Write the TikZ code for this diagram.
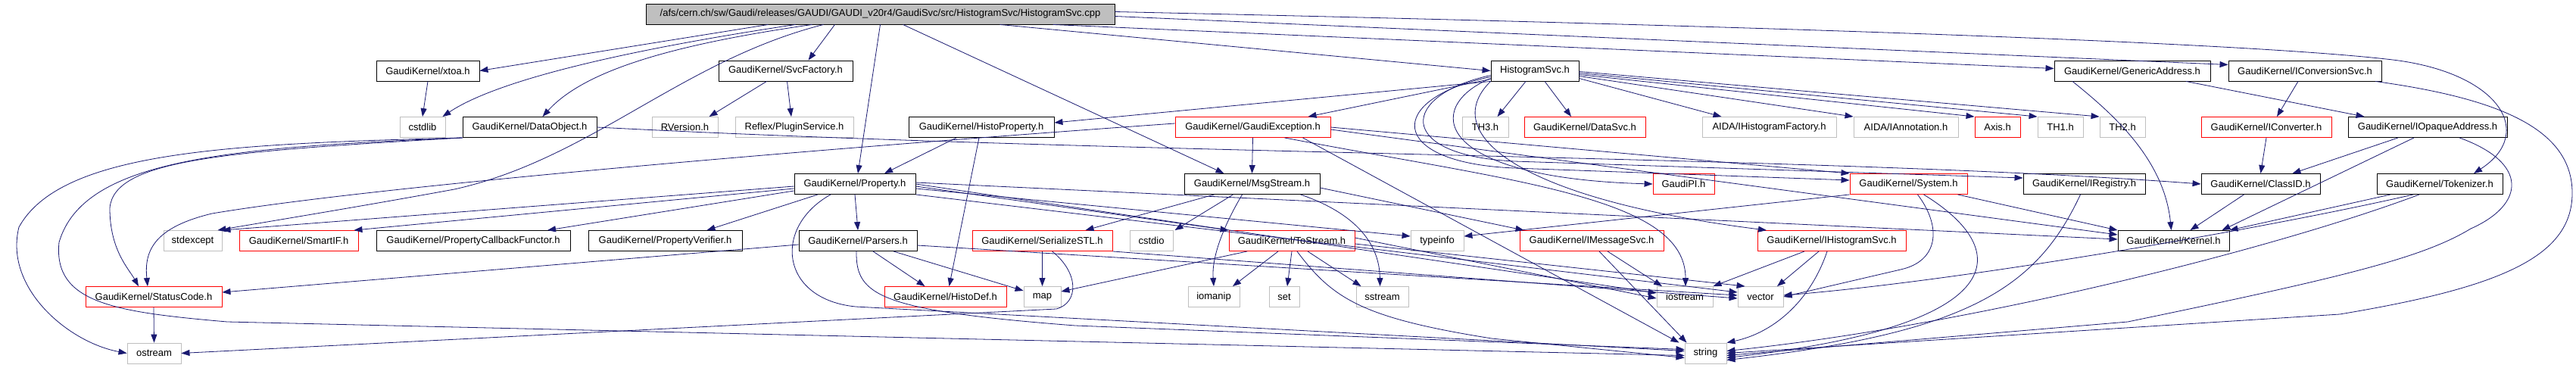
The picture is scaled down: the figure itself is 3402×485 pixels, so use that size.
\documentclass[tikz,border=0pt]{standalone}
\usepackage{fontspec}
\setmainfont{Liberation Sans}
\usepackage{xcolor}
\usetikzlibrary{arrows.meta}

\definecolor{edgeblue}{RGB}{25,25,112}
\definecolor{boxgray}{RGB}{191,191,191}

\begin{document}
\begin{tikzpicture}[x=1pt, y=-1pt, font=\fontsize{13}{15}\selectfont,
  hdr/.style={draw=black, line width=0.9pt, minimum height=27pt, inner sep=0pt},
  trunc/.style={hdr, draw=red},
  ext/.style={hdr, draw=boxgray},
  rootbox/.style={hdr, fill=boxgray},
  dep/.style={draw=edgeblue, line width=0.8pt, -{Triangle[length=11pt,width=8pt]}}]
  \useasboundingbox (0,0) rectangle (3402,485);
  % Source file
  \node[rootbox, minimum width=619pt] (root) at (1162.5,18.5) {/afs/cern.ch/sw/Gaudi/releases/GAUDI/GAUDI\_v20r4/GaudiSvc/src/HistogramSvc/HistogramSvc.cpp};
  % Row 1
  \node[hdr, minimum width=136pt] (xtoa) at (565,93.5) {GaudiKernel/xtoa.h};
  \node[hdr, minimum width=177pt] (svcfac) at (1037.5,93.5) {GaudiKernel/SvcFactory.h};
  \node[hdr, minimum width=116pt] (histsvc) at (2027,93.5) {HistogramSvc.h};
  \node[hdr, minimum width=206pt] (genaddr) at (2816,93.5) {GaudiKernel/GenericAddress.h};
  \node[hdr, minimum width=202pt] (iconvsvc) at (3044,93.5) {GaudiKernel/IConversionSvc.h};
  % Row 2
  \node[ext, minimum width=60pt] (cstdlib) at (558,168) {cstdlib};
  \node[hdr, minimum width=177pt] (dataobj) at (699.5,168) {GaudiKernel/DataObject.h};
  \node[ext, minimum width=87pt] (rversion) at (904.5,168) {RVersion.h};
  \node[ext, minimum width=156pt] (plugin) at (1049,168) {Reflex/PluginService.h};
  \node[hdr, minimum width=192pt] (histoprop) at (1296,168) {GaudiKernel/HistoProperty.h};
  \node[trunc, minimum width=205pt] (gexcept) at (1654.5,168) {GaudiKernel/GaudiException.h};
  \node[ext, minimum width=61pt] (th3) at (1961.5,168) {TH3.h};
  \node[trunc, minimum width=160pt] (datasvc) at (2093,168) {GaudiKernel/DataSvc.h};
  \node[ext, minimum width=177pt] (ihfact) at (2336.5,168) {AIDA/IHistogramFactory.h};
  \node[ext, minimum width=138pt] (iannot) at (2517,168) {AIDA/IAnnotation.h};
  \node[trunc, minimum width=60pt] (axis) at (2638,168) {Axis.h};
  \node[ext, minimum width=60pt] (th1) at (2721,168) {TH1.h};
  \node[ext, minimum width=60pt] (th2) at (2803,168) {TH2.h};
  \node[trunc, minimum width=172pt] (iconv) at (2993,168) {GaudiKernel/IConverter.h};
  \node[hdr, minimum width=210pt] (iopaque) at (3206,168) {GaudiKernel/IOpaqueAddress.h};
  % Row 3
  \node[hdr, minimum width=160pt] (property) at (1129,243) {GaudiKernel/Property.h};
  \node[hdr, minimum width=179pt] (msgstream) at (1653.5,243) {GaudiKernel/MsgStream.h};
  \node[trunc, minimum width=81pt] (gaudipi) at (2223.5,243) {GaudiPI.h};
  \node[trunc, minimum width=155pt] (system) at (2520.5,243) {GaudiKernel/System.h};
  \node[hdr, minimum width=161pt] (iregistry) at (2752.5,243) {GaudiKernel/IRegistry.h};
  \node[hdr, minimum width=157pt] (classid) at (2985.5,243) {GaudiKernel/ClassID.h};
  \node[hdr, minimum width=166pt] (tokenizer) at (3222,243) {GaudiKernel/Tokenizer.h};
  % Row 4
  \node[ext, minimum width=77pt] (stdexcept) at (254.5,318) {stdexcept};
  \node[trunc, minimum width=157pt] (smartif) at (394.5,318) {GaudiKernel/SmartIF.h};
  \node[hdr, minimum width=256pt] (propcb) at (625,318) {GaudiKernel/PropertyCallbackFunctor.h};
  \node[hdr, minimum width=203pt] (propver) at (878.5,318) {GaudiKernel/PropertyVerifier.h};
  \node[hdr, minimum width=156pt] (parsers) at (1133,318) {GaudiKernel/Parsers.h};
  \node[trunc, minimum width=185pt] (serial) at (1376.5,318) {GaudiKernel/SerializeSTL.h};
  \node[ext, minimum width=57pt] (cstdio) at (1520.5,318) {cstdio};
  \node[trunc, minimum width=166pt] (tostream) at (1706,318) {GaudiKernel/ToStream.h};
  \node[ext, minimum width=70pt] (typeinfo) at (1898,318) {typeinfo};
  \node[trunc, minimum width=190pt] (imsgsvc) at (2102,318) {GaudiKernel/IMessageSvc.h};
  \node[trunc, minimum width=196pt] (ihistsvc) at (2419,318) {GaudiKernel/IHistogramSvc.h};
  \node[hdr, minimum width=147pt] (kernel) at (2870.5,318) {GaudiKernel/Kernel.h};
  % Row 5
  \node[trunc, minimum width=180pt] (statuscode) at (203,392) {GaudiKernel/StatusCode.h};
  \node[trunc, minimum width=161pt] (histodef) at (1248.5,392) {GaudiKernel/HistoDef.h};
  \node[ext, minimum width=49pt] (map) at (1376.5,392) {map};
  \node[ext, minimum width=68pt] (iomanip) at (1603,392) {iomanip};
  \node[ext, minimum width=40pt] (set) at (1696,392) {set};
  \node[ext, minimum width=69pt] (sstream) at (1825.5,392) {sstream};
  \node[ext, minimum width=74pt] (iostream) at (2225,392) {iostream};
  \node[ext, minimum width=60pt] (vector) at (2325,392) {vector};
  % Row 6
  \node[ext, minimum width=71pt] (ostream) at (203.5,466.5) {ostream};
  \node[ext, minimum width=55pt] (string) at (2252.5,466.5) {string};

  % From the source file
  \draw[dep] ([xshift=-148pt]root.south) -- (xtoa.east);
  \draw[dep] ([xshift=-112pt]root.south) .. controls (800,70) and (650,110) .. ([xshift=-4pt]cstdlib.north east);
  \draw[dep] ([xshift=-90pt]root.south) .. controls (880,60) and (770,95) .. ([xshift=17pt]dataobj.north);
  \draw[dep] ([xshift=-60pt]root.south) -- ([xshift=30pt]svcfac.north);
  \draw[dep] ([xshift=-75pt]root.south) .. controls (900,80) and (780,210) .. (600,250) .. controls (480,272) and (370,290) .. ([xshift=-6pt]stdexcept.north east);
  \draw[dep] (root.south) -- ([xshift=4pt]property.north);
  \draw[dep] ([xshift=30pt]root.south) -- ([xshift=-37pt]msgstream.north);
  \draw[dep] ([xshift=158pt]root.south) -- (histsvc.west);
  \draw[dep] ([xshift=228pt]root.south) -- ([yshift=3pt]genaddr.west);
  \draw[dep] ([yshift=-3pt]root.east) -- ([yshift=8pt]iconvsvc.west);
  \draw[dep] ([yshift=3pt]root.east) .. controls (2500,38) and (3000,60) .. (3160,79) .. controls (3300,96) and (3350,175) .. ([xshift=45pt]tokenizer.north);
  % Row 1 headers
  \draw[dep] (xtoa.south) -- (cstdlib.north);
  \draw[dep] ([xshift=-25pt]svcfac.south) -- ([xshift=32pt]rversion.north);
  \draw[dep] ([xshift=2pt]svcfac.south) -- ([xshift=-4pt]plugin.north);
  \draw[dep] (histsvc.south west) -- ([yshift=6pt]histoprop.east);
  \draw[dep] ([yshift=3pt]histsvc.south west) -- ([xshift=73pt]gexcept.north);
  \draw[dep] ([xshift=-12pt]histsvc.south) -- ([xshift=16pt]th3.north);
  \draw[dep] ([xshift=13pt]histsvc.south) -- ([xshift=-18pt]datasvc.north);
  \draw[dep] ([yshift=-10pt]histsvc.east) -- ([xshift=-63pt]ihfact.north);
  \draw[dep] ([yshift=-7pt]histsvc.east) -- (iannot.north west);
  \draw[dep] ([yshift=-5pt]histsvc.east) -- (axis.north west);
  \draw[dep] ([yshift=-3pt]histsvc.east) -- (th1.north west);
  \draw[dep] ([yshift=-1pt]histsvc.east) -- (th2.north west);
  \draw[dep] ([yshift=-10pt]histsvc.west) .. controls (1880,140) and (1890,235) .. (gaudipi.west);
  \draw[dep] ([yshift=-8pt]histsvc.west) .. controls (1830,130) and (1830,215) .. (2000,222) -- ([yshift=5pt]system.west);
  \draw[dep] ([yshift=-6pt]histsvc.west) .. controls (1850,125) and (1840,205) .. (2000,213) -- ([yshift=8pt]iregistry.west);
  \draw[dep] (histsvc.south west) .. controls (1900,175) and (2000,262) .. ([xshift=-86pt]ihistsvc.north);
  \draw[dep] ([xshift=71pt]genaddr.south) -- ([xshift=22pt]iopaque.north west);
  \draw[dep] ([xshift=-79pt]genaddr.south) .. controls (2790,150) and (2858,210) .. ([xshift=-3pt]kernel.north);
  \draw[dep] ([xshift=-9pt]iconvsvc.south) -- ([xshift=14pt]iconv.north);
  \draw[dep] ([xshift=93pt]iconvsvc.south) .. controls (3300,130) and (3397,170) .. (3397,255) .. controls (3397,340) and (3300,380) .. (3090,415) -- (string.east);
  % Row 2 headers
  \draw[dep] (dataobj.south west) .. controls (300,190) and (80,200) .. (25,300) .. controls (5,380) and (90,452) .. (ostream.west);
  \draw[dep] (dataobj.south west) .. controls (300,195) and (110,210) .. (78,320) .. controls (70,400) and (150,412) .. (300,425) -- ([yshift=-3pt]string.west);
  \draw[dep] (dataobj.south west) .. controls (300,200) and (150,210) .. (145,275) .. controls (145,330) and (170,355) .. ([xshift=-20pt]statuscode.north);
  \draw[dep] (dataobj.east) .. controls (1500,205) and (2400,205) .. (classid.west);
  \draw[dep] ([xshift=-33pt]histoprop.south) -- ([xshift=39pt]property.north);
  \draw[dep] ([xshift=-3pt]histoprop.south) -- ([xshift=5pt]histodef.north);
  \draw[dep] (gexcept.south) -- (msgstream.north);
  \draw[dep] ([yshift=5pt]gexcept.west) .. controls (1100,195) and (500,245) .. (280,282) .. controls (205,300) and (190,330) .. ([xshift=-8pt]statuscode.north);
  \draw[dep] (gexcept.east) -- (system.north west);
  \draw[dep] ([yshift=-3pt]gexcept.east) -- ([yshift=8pt]kernel.west);
  \draw[dep] ([xshift=42pt]gexcept.south) .. controls (2000,240) and (2226,260) .. ([xshift=1pt]iostream.north);
  \draw[dep] ([xshift=66pt]gexcept.south) -- ([xshift=-35pt]string.north);
  \draw[dep] ([xshift=42pt]iopaque.south) .. controls (3340,215) and (3335,270) .. (3263,302) .. controls (3200,340) and (3100,365) .. (2810,425) -- ([yshift=-3pt]string.east);
  \draw[dep] ([xshift=-39pt]iopaque.south) -- ([xshift=-37pt]classid.north east);
  \draw[dep] ([xshift=-18pt]iopaque.south) -- ([xshift=-10pt]kernel.north east);
  \draw[dep] (iconv.south) -- (classid.north);
  % Row 3 headers
  \draw[dep] ([xshift=-22pt]classid.south) -- ([xshift=22pt]kernel.north);
  \draw[dep] ([xshift=-65pt]tokenizer.south) -- (kernel.north east);
  \draw[dep] ([xshift=-35pt]tokenizer.south) .. controls (3000,300) and (2600,370) .. ([yshift=2pt]vector.east);
  \draw[dep] ([xshift=-27pt]tokenizer.south) .. controls (3000,330) and (2600,430) .. ([yshift=3pt]string.east);
  \draw[dep] ([yshift=-3pt]property.west) -- (stdexcept.north east);
  \draw[dep] ([yshift=-6pt]property.west) -- ([xshift=-6pt]smartif.north east);
  \draw[dep] ([yshift=-9pt]property.west) -- ([xshift=98pt]propcb.north);
  \draw[dep] ([xshift=-49pt]property.south) -- ([xshift=55pt]propver.north);
  \draw[dep] (property.south) -- (parsers.north);
  \draw[dep] ([yshift=-3pt]property.east) -- (tostream.north west);
  \draw[dep] ([yshift=-6pt]property.east) -- ([yshift=6pt]typeinfo.west);
  \draw[dep] ([yshift=2pt]property.east) -- ([yshift=2pt]kernel.west);
  \draw[dep] ([xshift=-32pt]property.south) .. controls (1020,300) and (1030,395) .. (1130,405) -- ([yshift=3pt]string.west);
  \draw[dep] (property.south east) -- ([yshift=6pt]vector.west);
  \draw[dep] (property.east) -- ([yshift=5pt]iostream.west);
  \draw[dep] ([yshift=-5pt]msgstream.east) -- ([xshift=6pt]imsgsvc.north west);
  \draw[dep] ([xshift=-50pt]msgstream.south) -- ([xshift=57pt]serial.north);
  \draw[dep] ([xshift=-25pt]msgstream.south) -- ([xshift=31pt]cstdio.north);
  \draw[dep] ([xshift=-13pt]msgstream.south) .. controls (1615,300) and (1600,340) .. (iomanip.north);
  \draw[dep] ([xshift=64pt]msgstream.south) .. controls (1800,285) and (1822,330) .. ([xshift=-3pt]sstream.north);
  \draw[dep] (system.south west) -- ([yshift=6pt]typeinfo.east);
  \draw[dep] ([xshift=20pt]system.south) .. controls (2660,330) and (2660,430) .. ([yshift=-6pt]string.east);
  \draw[dep] ([xshift=12pt]system.south) .. controls (2565,300) and (2560,345) .. (2510,356) -- (vector.east);
  \draw[dep] ([xshift=65pt]system.south) -- (kernel.north west);
  \draw[dep] ([xshift=-5pt]iregistry.south) .. controls (2690,380) and (2600,440) .. ([yshift=-9pt]string.east);
  % Row 4 headers
  \draw[dep] ([yshift=-5pt]parsers.west) -- ([yshift=6pt]statuscode.east);
  \draw[dep] ([xshift=20pt]parsers.south) -- ([xshift=-27pt]histodef.north);
  \draw[dep] ([xshift=47pt]parsers.south) -- ([yshift=8pt]map.west);
  \draw[dep] ([xshift=-2pt]parsers.south) .. controls (1130,390) and (1160,410) .. (1420,430) -- ([yshift=5pt]string.west);
  \draw[dep] ([yshift=-6pt]parsers.east) -- ([yshift=2pt]vector.west);
  \draw[dep] (serial.south) -- (map.north);
  \draw[dep] ([xshift=13pt]serial.south) .. controls (1425,360) and (1425,400) .. (1395,408) -- (ostream.east);
  \draw[dep] (serial.south east) -- ([yshift=-2pt]vector.west);
  \draw[dep] ([xshift=-59pt]tostream.south) -- ([yshift=7pt]map.east);
  \draw[dep] ([xshift=-18pt]tostream.south) -- ([xshift=25pt]iomanip.north);
  \draw[dep] (tostream.south) -- ([xshift=4pt]set.north);
  \draw[dep] ([xshift=21pt]tostream.south) -- ([xshift=-28pt]sstream.north);
  \draw[dep] ([xshift=7pt]tostream.south) .. controls (1760,395) and (1800,420) .. (1970,447) -- ([yshift=-6pt]string.west);
  \draw[dep] ([yshift=-4pt]tostream.east) -- ([xshift=10pt]vector.north west);
  \draw[dep] ([yshift=4pt]tostream.east) -- ([yshift=-2pt]iostream.west);
  \draw[dep] ([xshift=21pt]imsgsvc.south) -- ([xshift=-30pt]iostream.north);
  \draw[dep] ([xshift=10pt]imsgsvc.south) -- ([xshift=-25pt]string.north);
  \draw[dep] ([xshift=-36pt]ihistsvc.south) -- (iostream.north east);
  \draw[dep] ([xshift=-17pt]ihistsvc.south) -- ([xshift=22pt]vector.north);
  \draw[dep] ([xshift=-6pt]ihistsvc.south) .. controls (2390,400) and (2340,440) .. (string.north east);
  % Row 5 headers
  \draw[dep] (statuscode.south) -- (ostream.north);
\end{tikzpicture}
\end{document}
